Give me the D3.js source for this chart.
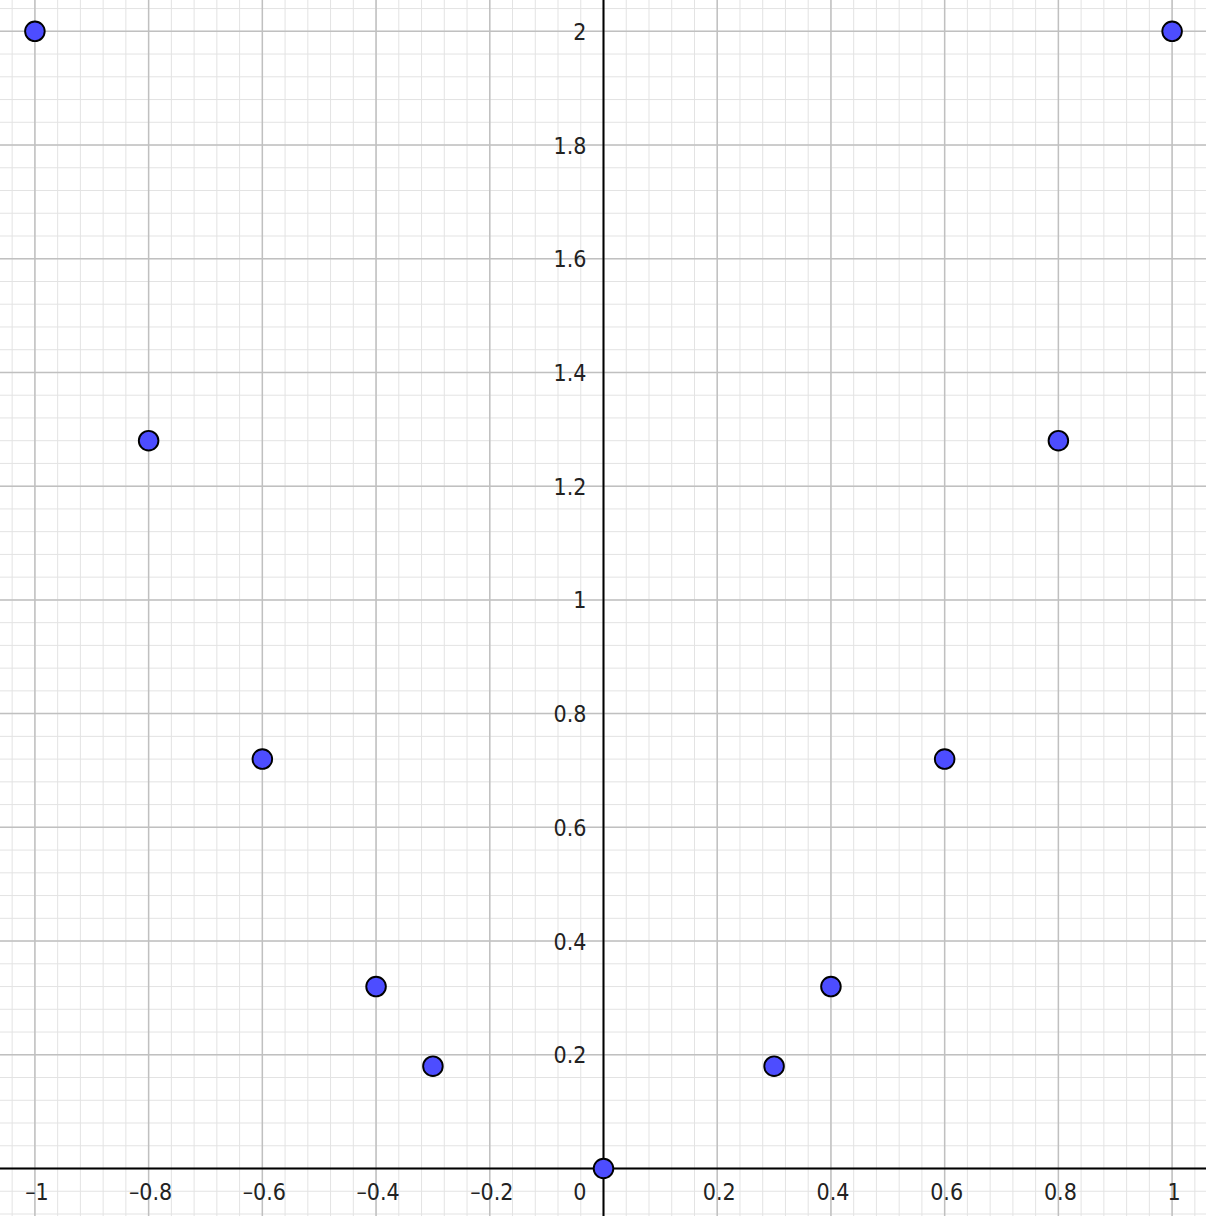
<!DOCTYPE html>
<html>
<head>
<meta charset="utf-8">
<script src="https://cdn.jsdelivr.net/npm/d3@7"></script>
<style>
html,body{margin:0;padding:0;background:#fff;}
svg{display:block;}
</style>
</head>
<body>
<svg id="chart" width="1206" height="1216"></svg>
<script>
const xValues = [-1, -0.8, -0.6, -0.4, -0.3, 0, 0.3, 0.4, 0.6, 0.8, 1];
const yValues = [2, 1.28, 0.72, 0.32, 0.18, 0, 0.18, 0.32, 0.72, 1.28, 2];
const xTickValues = [-1, -0.8, -0.6, -0.4, -0.2, 0, 0.2, 0.4, 0.6, 0.8, 1];
const yTickValues = [0.2, 0.4, 0.6, 0.8, 1, 1.2, 1.4, 1.6, 1.8, 2];

const W = 1206, H = 1216;
const unit = 568.6;
const x0 = 603.5, y0 = 1168.5;

const x = d3.scaleLinear().domain([-x0 / unit, (W - x0) / unit]).range([0, W]);
const y = d3.scaleLinear().domain([-(H - y0) / unit, y0 / unit]).range([H, 0]);

const svg = d3.select("#chart");

// minor grid
const minorX = d3.range(-27, 27).map(i => i * 0.04).filter(v => x(v) >= 0 && x(v) <= W);
const minorY = d3.range(-3, 53).map(i => i * 0.04).filter(v => y(v) >= 0 && y(v) <= H);
svg.append("g").selectAll("line.mx").data(minorX).join("line")
  .attr("x1", d => x(d)).attr("x2", d => x(d)).attr("y1", 0).attr("y2", H)
  .attr("stroke", "#e3e3e3").attr("stroke-width", 1);
svg.append("g").selectAll("line.my").data(minorY).join("line")
  .attr("y1", d => y(d)).attr("y2", d => y(d)).attr("x1", 0).attr("x2", W)
  .attr("stroke", "#e3e3e3").attr("stroke-width", 1);

// major grid
const majorX = d3.range(-5, 6).map(i => i * 0.2);
const majorY = d3.range(0, 11).map(i => i * 0.2);
svg.append("g").selectAll("line").data(majorX).join("line")
  .attr("x1", d => x(d)).attr("x2", d => x(d)).attr("y1", 0).attr("y2", H)
  .attr("stroke", "#c0c0c0").attr("stroke-width", 1.5);
svg.append("g").selectAll("line").data(majorY).join("line")
  .attr("y1", d => y(d)).attr("y2", d => y(d)).attr("x1", 0).attr("x2", W)
  .attr("stroke", "#c0c0c0").attr("stroke-width", 1.5);

// axes lines
svg.append("line").attr("x1", 0).attr("x2", W).attr("y1", y(0)).attr("y2", y(0))
  .attr("stroke", "#000").attr("stroke-width", 2);
svg.append("line").attr("y1", 0).attr("y2", H).attr("x1", x(0)).attr("x2", x(0))
  .attr("stroke", "#000").attr("stroke-width", 2);

const fmt = v => {
  const s = String(Math.round(v * 10) / 10);
  return s.replace("-", "\u2013");
};
const font = "'DejaVu Sans Condensed', 'DejaVu Sans', sans-serif";

// x labels
svg.append("g").selectAll("text").data(xTickValues).join("text")
  .attr("x", d => d === 0 ? x(0) - 17 : x(d) + 2)
  .attr("y", y(0) + 31.5)
  .attr("text-anchor", d => d === 0 ? "end" : "middle")
  .attr("font-family", font).attr("font-size", 23).attr("fill", "#222")
  .text(d => fmt(d));

// y labels
svg.append("g").selectAll("text").data(yTickValues).join("text")
  .attr("x", x(0) - 17)
  .attr("y", d => y(d) + 8.5)
  .attr("text-anchor", "end")
  .attr("font-family", font).attr("font-size", 23).attr("fill", "#222")
  .text(d => fmt(d));

// points
const pts = xValues.map((v, i) => ({x: v, y: yValues[i]}));
svg.append("g").selectAll("circle").data(pts).join("circle")
  .attr("cx", d => x(d.x)).attr("cy", d => y(d.y)).attr("r", 9.8)
  .attr("fill", "#4d4dff").attr("stroke", "#000").attr("stroke-width", 1.9);
</script>
</body>
</html>
